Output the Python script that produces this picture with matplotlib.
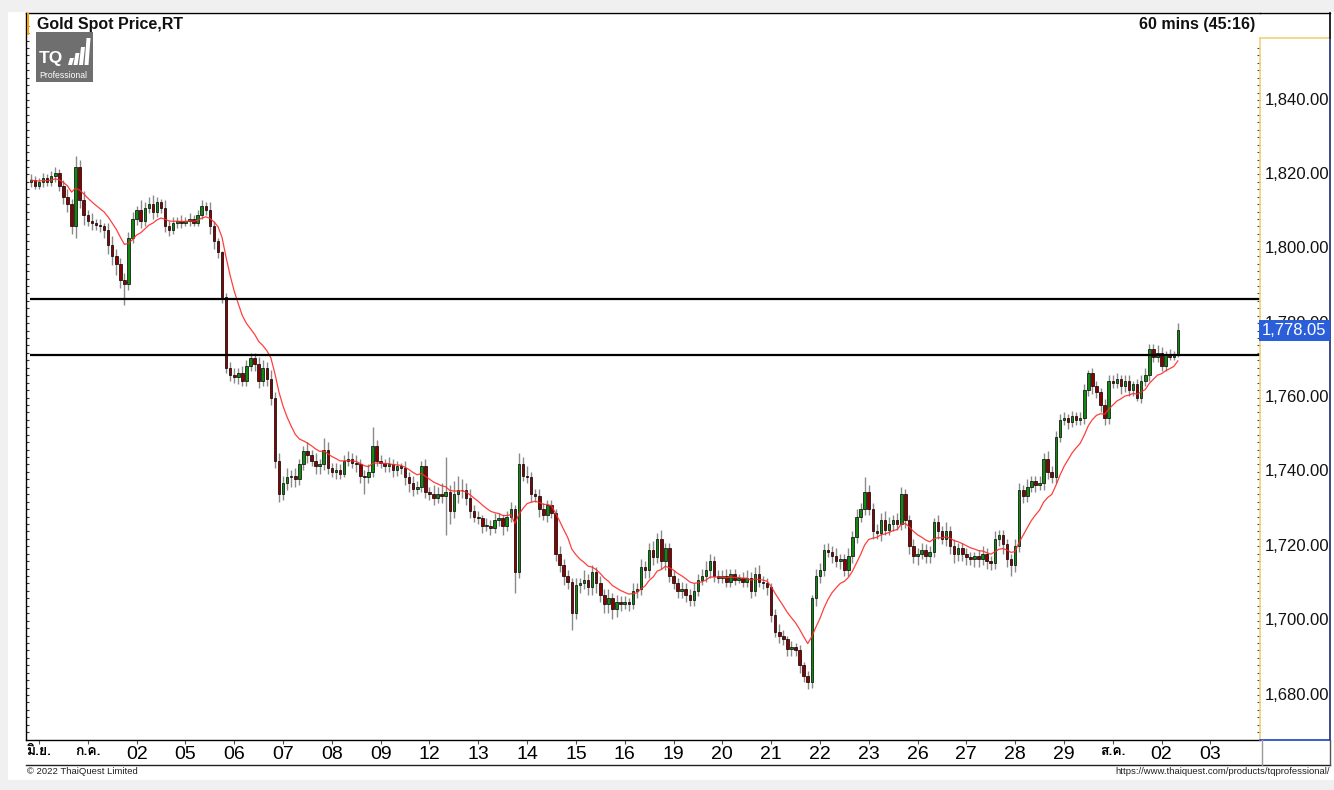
import matplotlib
matplotlib.use("Agg")
import matplotlib.pyplot as plt
import numpy as np
import pandas as pd
from matplotlib.patches import Rectangle, Polygon
from matplotlib.lines import Line2D
from matplotlib import font_manager
from matplotlib.ft2font import FT2Font

# ---------------- data (2-hour bars) ----------------
first_open = 1818.0
closes = [
    1818.5, 1817.0,
    1818.0, 1819.0, 1818.0, 1819.5, 1820.5, 1817.0, 1814.0, 1812.0, 1806.0, 1822.0, 1813.0, 1809.0,
    1807.5, 1807.0, 1806.5, 1806.0, 1805.0, 1801.0, 1798.0, 1796.0, 1791.5, 1790.5, 1803.0, 1808.0,
    1810.5, 1807.5, 1811.0, 1812.0, 1810.0, 1812.5, 1811.0, 1806.0, 1805.0, 1807.0, 1807.5, 1807.0,
    1807.5, 1808.0, 1807.0, 1809.0, 1811.5, 1810.5, 1806.0, 1802.0, 1799.0, 1787.0, 1768.0, 1766.0,
    1765.5, 1766.5, 1764.5, 1768.5, 1770.5, 1769.0, 1764.5, 1768.0, 1765.0, 1760.0, 1743.0, 1734.0,
    1737.0, 1738.5, 1739.0, 1738.0, 1742.0, 1745.5, 1744.5, 1743.0, 1741.5, 1742.0, 1746.0, 1741.0,
    1740.0, 1740.5, 1739.5, 1743.0, 1743.5, 1742.5, 1742.0, 1739.0, 1738.5, 1740.0, 1747.0, 1743.0,
    1742.5, 1741.5, 1742.0, 1740.5, 1741.5, 1741.0, 1738.5, 1737.0, 1735.5, 1736.0, 1741.5, 1734.5,
    1734.0, 1733.0, 1734.0, 1733.5, 1734.5, 1729.5, 1734.0, 1735.0, 1735.0, 1733.0, 1729.5, 1728.0,
    1727.5, 1725.5, 1725.5, 1725.0, 1727.0, 1727.5, 1725.5, 1728.0, 1730.0, 1713.0, 1742.0, 1739.0,
    1738.5, 1734.0, 1733.5, 1730.0, 1728.5, 1731.0, 1729.0, 1718.0, 1715.0, 1712.0, 1710.5, 1702.0,
    1709.5, 1710.0, 1711.0, 1709.0, 1713.0, 1710.0, 1707.0, 1704.5, 1706.0, 1703.0, 1705.0, 1704.5,
    1705.0, 1704.5, 1708.0, 1708.5, 1714.5, 1713.5, 1719.0, 1717.0, 1722.0, 1716.0, 1719.5, 1712.0,
    1710.0, 1708.0, 1708.5, 1707.0, 1705.5, 1708.0, 1711.0, 1712.0, 1713.5, 1716.0, 1712.0, 1711.5,
    1712.0, 1710.5, 1712.5, 1711.0, 1711.5, 1710.5, 1711.5, 1708.0, 1712.5, 1710.5, 1710.0, 1709.0,
    1701.5, 1697.0, 1696.0, 1695.0, 1692.5, 1693.0, 1692.0, 1688.0, 1685.0, 1683.5, 1706.0, 1712.0,
    1713.5, 1719.0, 1718.5, 1717.5, 1716.0, 1716.5, 1713.5, 1717.5, 1722.5, 1728.0, 1730.0, 1734.5,
    1730.0, 1724.0, 1723.5, 1727.0, 1724.5, 1726.0, 1727.0, 1726.0, 1734.0, 1727.0, 1720.0, 1717.5,
    1718.0, 1719.0, 1717.5, 1718.5, 1726.5, 1724.0, 1722.0, 1724.0, 1720.0, 1718.0, 1719.5, 1718.0,
    1717.0, 1716.5, 1717.5, 1716.5, 1718.0, 1716.0, 1715.5, 1722.0, 1723.0, 1720.5, 1716.5, 1715.0,
    1720.0, 1735.0, 1733.5, 1736.0, 1737.5, 1736.5, 1737.0, 1743.5, 1740.0, 1738.5, 1749.5, 1754.0,
    1754.5, 1753.5, 1755.0, 1754.0, 1754.5, 1762.0, 1766.5, 1763.0, 1761.5, 1758.0, 1754.5, 1764.5,
    1764.0, 1765.0, 1763.0, 1764.5, 1762.0, 1763.5, 1760.0, 1764.5, 1766.0, 1773.0, 1771.0, 1772.0,
    1768.5, 1771.5, 1771.0, 1771.5, 1778.05,
]
wick_up = [
    1.5, 1.0,
    1.0, 1.5, 1.0, 1.5, 1.5, 1.0, 1.5, 2.0, 1.5, 3.0, 2.0, 2.5,
    1.5, 2.0, 1.0, 1.5, 1.0, 2.0, 2.5, 2.0, 1.5, 2.0, 1.5, 2.0,
    1.0, 2.5, 1.5, 2.0, 2.5, 1.5, 1.0, 2.0, 1.5, 1.5, 1.0, 1.5,
    1.0, 1.5, 1.0, 1.5, 1.5, 1.0, 2.0, 1.5, 1.0, 0.5, 1.0, 1.5,
    2.0, 1.5, 2.0, 1.5, 1.5, 1.5, 2.0, 2.0, 1.5, 2.5, 1.5, 2.0,
    2.0, 2.5, 1.5, 2.0, 1.5, 1.5, 2.5, 1.5, 2.0, 1.5, 3.0, 2.0,
    1.5, 2.0, 1.5, 1.5, 2.0, 1.5, 2.0, 1.5, 1.5, 2.0, 5.0, 1.5,
    1.5, 1.0, 2.0, 1.5, 1.5, 1.0, 2.0, 1.5, 2.0, 1.5, 1.5, 2.0,
    1.5, 2.5, 2.0, 3.0, 9.5, 2.0, 3.5, 4.0, 3.0, 2.0, 2.5, 1.5,
    1.5, 1.0, 2.0, 1.5, 2.0, 1.5, 1.0, 1.5, 2.0, 1.0, 3.0, 2.0,
    2.5, 1.5, 1.5, 2.0, 1.5, 1.5, 1.5, 1.0, 2.0, 1.5, 1.5, 1.0,
    2.0, 1.5, 2.5, 1.5, 2.0, 1.5, 2.0, 1.5, 2.5, 1.5, 2.0, 1.5,
    1.5, 1.0, 2.0, 1.5, 2.0, 1.5, 2.0, 2.5, 1.5, 2.5, 1.5, 1.5,
    1.5, 1.5, 2.0, 1.5, 1.5, 2.0, 1.5, 2.0, 2.5, 2.0, 1.5, 1.5,
    1.5, 2.0, 1.5, 1.5, 1.0, 1.5, 2.0, 1.5, 2.0, 2.5, 1.5, 1.5,
    1.0, 1.5, 2.0, 1.5, 1.0, 1.5, 1.0, 1.5, 1.0, 1.5, 1.0, 2.0,
    2.0, 1.5, 2.0, 1.5, 2.0, 1.5, 1.5, 2.0, 1.5, 2.0, 1.5, 4.0,
    2.0, 1.5, 2.0, 2.0, 2.5, 2.0, 1.5, 2.0, 2.0, 1.5, 1.5, 2.0,
    1.5, 2.0, 1.5, 1.5, 1.0, 2.0, 1.5, 2.5, 1.5, 2.0, 1.5, 1.5,
    1.5, 1.5, 1.0, 1.5, 2.0, 1.5, 1.5, 2.0, 1.5, 1.5, 1.5, 1.5,
    2.0, 2.0, 1.5, 2.0, 1.5, 1.5, 2.0, 1.5, 2.0, 1.5, 1.5, 1.5,
    1.5, 1.0, 1.5, 1.0, 1.5, 1.5, 1.0, 1.5, 1.5, 1.0, 1.5, 1.5,
    1.5, 1.5, 1.0, 1.5, 1.5, 1.0, 1.5, 1.5, 2.0, 1.5, 1.5, 2.0,
    1.5, 1.0, 1.5, 1.0, 2.0,
]
wick_dn = [
    1.5, 1.0,
    1.0, 1.5, 1.0, 1.0, 1.5, 1.5, 2.0, 2.0, 2.0, 3.0, 2.0, 2.5,
    1.5, 2.0, 1.5, 1.5, 2.0, 2.5, 2.5, 3.0, 2.0, 5.5, 1.5, 1.5,
    1.5, 2.0, 1.5, 1.5, 2.0, 1.5, 1.5, 1.5, 1.5, 1.0, 1.5, 1.5,
    1.0, 1.5, 1.0, 1.0, 1.0, 1.5, 2.0, 2.0, 1.5, 1.5, 1.5, 1.5,
    1.5, 2.0, 1.5, 1.5, 1.5, 2.0, 2.0, 1.5, 2.0, 2.0, 2.0, 2.0,
    1.5, 2.0, 2.5, 2.0, 1.5, 1.5, 2.0, 1.5, 2.0, 2.0, 1.5, 1.5,
    1.5, 2.0, 1.5, 1.0, 1.5, 1.5, 2.0, 2.0, 4.5, 1.5, 1.5, 1.5,
    1.5, 1.5, 1.5, 2.0, 1.5, 1.5, 2.0, 2.5, 2.0, 1.5, 1.5, 1.5,
    1.5, 2.0, 1.5, 2.0, 10.5, 3.5, 2.0, 2.5, 2.0, 2.0, 2.0, 1.5,
    1.5, 2.0, 1.5, 2.0, 1.5, 1.5, 2.5, 1.5, 1.5, 5.5, 1.5, 1.5,
    1.5, 2.0, 1.5, 2.0, 1.5, 2.0, 1.5, 2.0, 2.0, 2.5, 2.0, 4.5,
    1.5, 2.0, 1.5, 2.0, 2.0, 2.5, 2.0, 2.5, 2.5, 2.5, 2.0, 2.0,
    1.5, 2.0, 1.5, 2.0, 1.5, 2.0, 2.0, 2.0, 1.5, 2.0, 2.5, 1.5,
    1.5, 2.0, 2.0, 2.0, 1.5, 1.5, 1.5, 1.5, 1.5, 2.0, 1.5, 1.5,
    1.5, 1.5, 1.5, 1.5, 1.0, 1.5, 1.5, 2.0, 1.5, 1.5, 1.5, 2.0,
    2.0, 1.5, 2.0, 1.5, 2.0, 2.0, 1.5, 2.0, 1.5, 2.0, 1.5, 2.0,
    2.0, 1.5, 1.5, 2.0, 1.5, 2.0, 1.5, 1.5, 2.0, 1.5, 1.5, 1.5,
    1.5, 2.0, 1.5, 2.0, 1.5, 1.5, 2.0, 1.5, 1.5, 2.0, 2.0, 2.0,
    2.5, 1.5, 2.0, 2.0, 1.5, 2.0, 1.5, 2.0, 2.0, 2.5, 2.0, 2.0,
    2.0, 1.5, 2.0, 2.0, 1.5, 2.0, 2.0, 1.5, 2.0, 2.5, 2.0, 3.0,
    2.0, 1.5, 2.0, 1.5, 1.5, 2.0, 1.5, 2.0, 2.0, 1.5, 1.5, 1.5,
    1.5, 2.0, 1.5, 1.5, 1.5, 1.5, 1.5, 2.0, 1.5, 2.0, 2.0, 1.5,
    1.5, 1.5, 2.0, 1.5, 1.5, 1.5, 1.0, 1.5, 1.5, 1.5, 1.5, 1.5,
    1.5, 1.5, 1.0, 1.0, 0.5,
]
first_bar = -2
bars_per_day = 12
day_labels = ["มิ.ย.", "ก.ค.", "02", "05", "06", "07", "08", "09", "12", "13", "14",
              "15", "16", "19", "20", "21", "22", "23", "26", "27", "28", "29",
              "ส.ค.", "02", "03"]
price_ticks = [1680, 1700, 1720, 1740, 1760, 1780, 1800, 1820, 1840]
levels = [1786.6, 1771.4]
last_price = 1778.05
ema_span = 12

# ---------------- fonts ----------------
def find_font(ch):
    for f in font_manager.fontManager.ttflist:
        try:
            ft = FT2Font(f.fname)
            if ft.get_char_index(ord(ch)):
                return f.name
        except Exception:
            pass
    return None

thai_font = find_font("ม")
SANS = ["Liberation Sans", "DejaVu Sans"]
NARROW = ["Liberation Sans Narrow", "Liberation Sans", "DejaVu Sans"]
THAI = ([thai_font] if thai_font else []) + ["DejaVu Sans"]
plt.rcParams["font.family"] = SANS

# ---------------- derived OHLC ----------------
n = min(len(closes), len(wick_up), len(wick_dn))
c = np.array(closes[:n])
o = np.concatenate([[first_open], c[:-1]])
hi = np.maximum(o, c) + np.array(wick_up[:n])
lo = np.minimum(o, c) - np.array(wick_dn[:n])
x = np.arange(first_bar, first_bar + n)
ema = pd.Series(c).ewm(span=ema_span, adjust=False).mean().values

# ---------------- figure ----------------
W, H = 1334, 790
fig = plt.figure(figsize=(W / 100, H / 100), dpi=100, facecolor="#f0f0f0")

def box(l, t, r, b):
    return [l / W, 1 - b / H, (r - l) / W, (b - t) / H]

# white panel
fig.patches.append(Rectangle((8 / W, 1 - 780 / H), (W - 8) / W, (780 - 12) / H,
                             transform=fig.transFigure, facecolor="white", edgecolor="none", zorder=-10))

ax = fig.add_axes(box(26, 13, 1260, 740))
ax.set_facecolor("white")
y_lo = 1667.9
y_hi = 1863.4
ax.set_ylim(y_lo, y_hi)
ax.set_xlim(-3.2, 300.2)

up = c >= o
# wicks
ax.vlines(x, lo, hi, color="#8a8a8a", lw=1.0, zorder=2)
# bodies
body_b = np.minimum(o, c)
body_h = np.maximum(np.abs(c - o), 0.25)
ax.bar(x[up], body_h[up], bottom=body_b[up], width=0.62, color="#0f8a0f",
       edgecolor="black", linewidth=0.5, zorder=3)
ax.bar(x[~up], body_h[~up], bottom=body_b[~up], width=0.62, color="#8b0000",
       edgecolor="black", linewidth=0.5, zorder=3)
# moving average
ax.plot(x, ema, color="#ff2a2a", lw=0.9, alpha=0.9, zorder=4)
# horizontal levels
ax.hlines(levels, -2.2, 300.2, color="black", lw=1.6, zorder=5)

for s in ["right"]:
    ax.spines[s].set_visible(False)
for s in ["top", "left", "bottom"]:
    ax.spines[s].set_color("black")
    ax.spines[s].set_linewidth(1.0)

ax.set_yticks([])
ax.set_yticks(np.arange(1670, 1862, 2), minor=True)
ax.tick_params(axis="y", which="minor", direction="in", length=2.5, width=0.8, color="#333333",
               left=True, right=False, labelleft=False)
day_pos = [i * bars_per_day for i in range(len(day_labels))]
ax.set_xticks(day_pos)
ax.set_xticklabels(day_labels)
ax.tick_params(axis="x", which="major", direction="out", length=3, width=0.8, color="#555555",
               pad=1.5, labelsize=14)
for lbl in ax.get_xticklabels():
    t = lbl.get_text()
    if t and not t[0].isdigit():
        lbl.set_fontfamily(THAI)
        lbl.set_fontweight("bold")
        lbl.set_fontsize(10)
    else:
        lbl.set_fontfamily(NARROW)

# price axis panel
ax2 = fig.add_axes(box(1260, 38, 1330, 740))
ax2.set_facecolor("white")
ax2.set_ylim(y_lo, 1840 + 62 / 3.71875)
ax2.set_xlim(0, 1)
ax2.set_xticks([])
ax2.set_yticks([])
ax2.set_yticks(np.arange(1670, 1856, 2), minor=True)
ax2.tick_params(axis="y", which="minor", direction="out", length=2, width=0.8, color="#444444")
ax2.spines["left"].set_color("#f2d27a")
ax2.spines["top"].set_color("#f2d27a")
ax2.spines["right"].set_color("#1c2a7a")
ax2.spines["bottom"].set_color("#2040c0")
for s in ax2.spines.values():
    s.set_linewidth(1.2)
ytr = ax2.get_yaxis_transform()
for v in price_ticks:
    ax2.text(0.07, v, f"{v:,.2f}", transform=ytr, ha="left", va="center",
             fontsize=12, color="#111111", family=SANS, zorder=3)
# current price tag
ax2.text(0.03, last_price, f"{last_price:,.2f}", transform=ytr, ha="left", va="center",
         fontsize=12, color="white", family=SANS, zorder=6,
         bbox=dict(boxstyle="square,pad=0.18", facecolor="#2b5fd9", edgecolor="none"))

# frame lines
def fline(x0, y0, x1, y1, **kw):
    fig.add_artist(Line2D([x0 / W, x1 / W], [1 - y0 / H, 1 - y1 / H], transform=fig.transFigure, **kw))

fline(1260, 12.5, 1330, 12.5, color="black", lw=1.0)
fline(1330, 12.5, 1330, 38, color="black", lw=1.2)
fline(26, 765, 1330, 765, color="#222222", lw=1.0)
fline(1262, 740, 1262, 765, color="#999999", lw=1.0)
fline(1330, 740, 1330, 765, color="#555555", lw=1.0)
# orange marker by title
fig.patches.append(Rectangle((26.5 / W, 1 - 35 / H), 2.5 / W, 22 / H, transform=fig.transFigure,
                             facecolor="#f5a000", edgecolor="none", zorder=5))

# titles
fig.text(37 / W, 1 - 24 / H, "Gold Spot Price,RT", ha="left", va="center", fontsize=11.5,
         fontweight="bold", color="#111111", family=SANS)
fig.text(1255 / W, 1 - 24 / H, "60 mins (45:16)", ha="right", va="center", fontsize=11.5,
         fontweight="bold", color="#111111", family=SANS)

# TQ logo
fig.patches.append(Rectangle((36 / W, 1 - 82 / H), 57 / W, 50 / H, transform=fig.transFigure,
                             facecolor="#6f6f6f", edgecolor="none", zorder=6))
fig.text(39 / W, 1 - 59 / H, "TQ", ha="left", va="center", fontsize=12.5, fontweight="bold",
         color="white", family=SANS, zorder=7)
bar_tops = [58, 53, 47, 38]
for k, tp in enumerate(bar_tops):
    x0 = 68 + k * 5.5
    pts = [(x0, 65), (x0 + 4, 65), (x0 + 6, tp), (x0 + 2, tp)]
    fig.patches.append(Polygon([(p / W, 1 - q / H) for p, q in pts], closed=True,
                               transform=fig.transFigure, facecolor="white", edgecolor="none", zorder=7))
fig.text(39 / W, 1 - 76 / H, "Professional", ha="left", va="center", fontsize=6.2,
         color="white", family=SANS, zorder=7)

# footer
fig.text(27 / W, 1 - 772 / H, "© 2022 ThaiQuest Limited", ha="left", va="center",
         fontsize=6.8, color="#222222", family=NARROW)
fig.text(1330 / W, 1 - 772 / H, "https://www.thaiquest.com/products/tqprofessional/",
         ha="right", va="center", fontsize=6.8, color="#222222", family=NARROW)

fig.savefig("out.png", dpi=100, facecolor=fig.get_facecolor())
